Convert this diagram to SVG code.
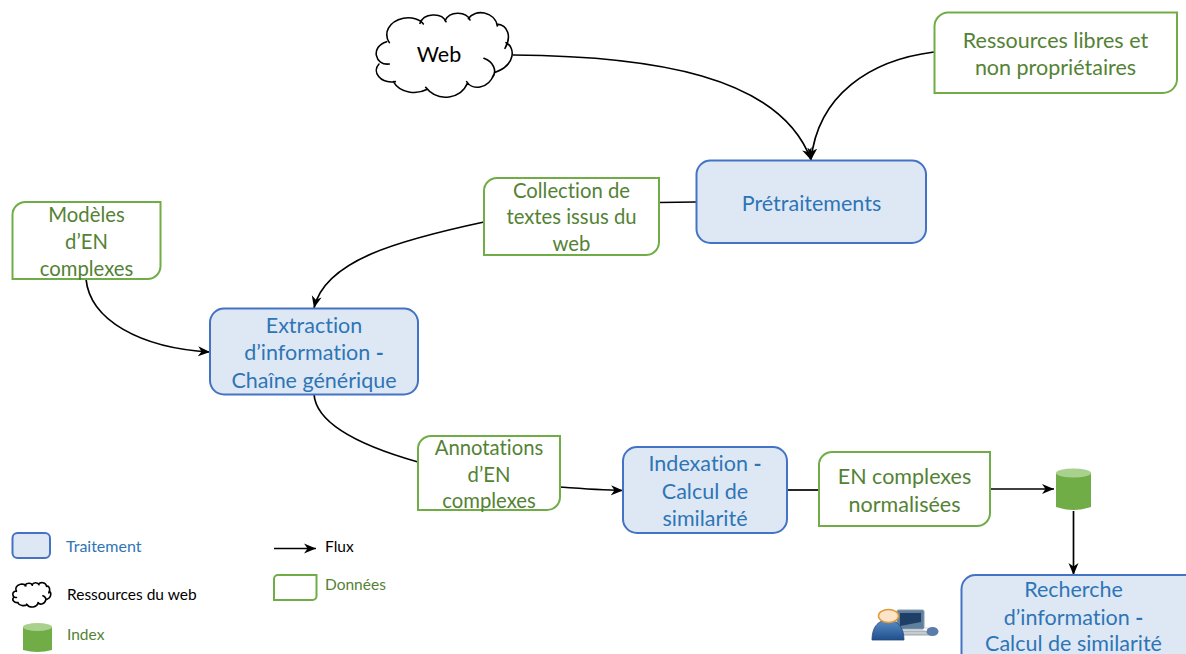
<svg xmlns="http://www.w3.org/2000/svg" xmlns:xlink="http://www.w3.org/1999/xlink" width="1186" height="654" viewBox="0 0 1186 654">
<style>
text{font-family:Lato,"Liberation Sans",sans-serif;text-anchor:middle;font-variant-ligatures:none}
.p{fill:#DEE8F5;stroke:#4472C4;stroke-width:2}
.d{fill:#fff;stroke:#70AD47;stroke-width:2}
.pt{fill:#2E75B6;font-size:21.5px}
.dt{fill:#548235;font-size:21.5px}
.ds{fill:#548235;font-size:20.300px}
.b{font-weight:700}
.lg{font-size:15.500px;text-anchor:start}
.c{fill:none;stroke:#000;stroke-width:1.7}
.arc{fill:none;stroke:#000;stroke-width:1.6;stroke-linecap:round;vector-effect:non-scaling-stroke}
.cf{fill:#fff;stroke:none}
.top{fill:#A9D18E}.body{fill:#70AD47}
</style>
<defs>
<marker id="a" markerUnits="userSpaceOnUse" markerWidth="13" markerHeight="12" refX="12" refY="6" orient="auto"><path d="M0,1 L12,6 L0,11 L3.500,6 Z" fill="#000"/></marker>
<g id="cloud">
<path class="cf" d="M85,125 L85,75 L130,55 L190,70 L220,40 L258,65 L295,38 L330,58 L375,35 L412,75 L445,95 L435,145 L458,165 L403,218 L395,235 L320,245 L260,295 L197,262 L100,245 L50,225 L55,195 L45,150 Z"/>
<path class="arc" d="M88,128 C70,100 85,65 130,55 C155,50 180,58 190,72 M180,70 C190,40 245,35 258,65 M255,62 C270,30 320,35 330,60 M325,56 C345,25 405,35 412,78 M410,72 C445,75 455,110 435,145 M438,128 C465,140 470,195 403,218 M372,175 C400,185 412,212 398,232 M402,222 C385,270 335,270 320,245 M322,250 C305,295 235,310 197,262 M202,268 C170,285 120,280 100,245 M106,245 C60,252 35,215 57,192 M88,192 C45,198 30,140 80,125"/>
</g>
<linearGradient id="g" x1="0" x2="0" y1="0" y2="1"><stop offset="0" stop-color="#5B8FC9"/><stop offset="1" stop-color="#1F4E8C"/></linearGradient>
</defs>

<g id="connectors">
<path class="c" d="M513,55 C650,56 780,75 811,160" marker-end="url(#a)"/>
<path class="c" d="M934,52 C870,60 818,95 811,160" marker-end="url(#a)"/>
<path class="c" d="M696,202 L659,202.500"/>
<path class="c" d="M484,222 C400,240 325,260 314,308" marker-end="url(#a)"/>
<path class="c" d="M86,279 C90,320 140,348 210,352" marker-end="url(#a)"/>
<path class="c" d="M314,394 C316,425 365,447 418,462"/>
<path class="c" d="M560,487 C580,488.500 600,490 623,490.500" marker-end="url(#a)"/>
<path class="c" d="M787,490 L819,490"/>
<path class="c" d="M990,489 L1054,489" marker-end="url(#a)"/>
<path class="c" d="M1073.500,511 L1073.500,575" marker-end="url(#a)"/>
</g>

<g id="web"><use xlink:href="#cloud" transform="translate(360,0) scale(.3333)"/><text x="439" y="62" font-size="21.500" fill="#000">Web</text></g>

<g id="ressources"><path class="d" d="M948,12.500 H1177 V79 A14,14 0 0 1 1163,93 H934.500 V26.500 A14,14 0 0 1 948,12.500 Z"/><text class="dt" x="1055.500" y="48">Ressources libres et</text><text class="dt" x="1055.500" y="75">non propriétaires</text></g>

<g id="pretraitements"><rect class="p" x="696.500" y="160.500" width="229.500" height="82.500" rx="14"/><text class="pt" x="811.500" y="211">Prétraitements</text></g>

<g id="collection"><path class="d" d="M497,178 H659 V242 A13,13 0 0 1 646,255 H484 V191 A13,13 0 0 1 497,178 Z"/><text class="ds" x="571.500" y="198">Collection de</text><text class="ds" x="571.500" y="224">textes issus du</text><text class="ds" x="571.500" y="251">web</text></g>

<g id="modeles"><path class="d" d="M25.500,202 H160.500 V266 A13,13 0 0 1 147.500,279 H12.500 V215 A13,13 0 0 1 25.500,202 Z"/><text class="ds" x="86.500" y="222">Modèles</text><text class="ds" x="86.500" y="249">d’EN</text><text class="ds" x="86.500" y="276">complexes</text></g>

<g id="extraction"><rect class="p" x="210" y="308.500" width="208" height="86" rx="14"/><text class="pt" x="314" y="333">Extraction</text><text class="pt" x="314" y="360">d’information <tspan class="b">-</tspan></text><text class="pt" x="314" y="388">Chaîne générique</text></g>

<g id="annotations"><path class="d" d="M431,436 H560 V497 A13,13 0 0 1 547,510 H418 V449 A13,13 0 0 1 431,436 Z"/><text class="ds" x="489" y="455">Annotations</text><text class="ds" x="489" y="482">d’EN</text><text class="ds" x="489" y="508">complexes</text></g>

<g id="indexation"><rect class="p" x="623" y="447" width="164" height="86" rx="14"/><text class="pt" x="705" y="471">Indexation <tspan class="b">-</tspan></text><text class="pt" x="705" y="499">Calcul de</text><text class="pt" x="705" y="526">similarité</text></g>

<g id="en-normalisees"><path class="d" d="M832,452 H990 V513 A13,13 0 0 1 977,526 H819 V465 A13,13 0 0 1 832,452 Z"/><text class="dt" x="904.500" y="484">EN complexes</text><text class="dt" x="904.500" y="512">normalisées</text></g>

<g id="index"><path class="body" d="M1056,473 V507 Q1073.500,513 1091,507 V473 Z"/><ellipse class="top" cx="1073.500" cy="473" rx="17.500" ry="4.500"/></g>

<g id="recherche"><rect class="p" x="961.500" y="575" width="240" height="100" rx="14"/><text class="pt" x="1073.500" y="597">Recherche</text><text class="pt" x="1073.500" y="625">d’information <tspan class="b">-</tspan></text><text class="pt" x="1073.500" y="651">Calcul de similarité</text></g>

<g id="user">
<rect x="897" y="610" width="27" height="19" rx="1.500" fill="#5E7F9E" stroke="#8a9bac"/>
<path d="M900,613 H921 V622 L900,626 Z" fill="#1F3F66"/>
<path d="M898,631 H925 L931,635 H900 Z" fill="#C5CBD2" stroke="#7c8791" stroke-width=".7"/>
<path d="M925,628 C932,628 936,630 937,634" fill="none" stroke="#D0D5DA"/>
<ellipse cx="932.500" cy="631.500" rx="6" ry="4.500" fill="#5B7BA8"/>
<path d="M872,640 C872,625 880,620 888,620 C898,620 904,628 904,640 Z" fill="url(#g)" stroke="#26467a" stroke-width=".8"/>
<ellipse cx="888.500" cy="616" rx="10" ry="6.500" fill="#FCE4C8" stroke="#E09A3A" stroke-width="1.500"/>
</g>

<g id="legend">
<rect class="p" x="12.500" y="533" width="37.500" height="25" rx="5"/>
<text class="lg" x="66" y="552" font-size="16" style="font-size:16px" fill="#2E75B6">Traitement</text>
<use xlink:href="#cloud" transform="translate(8.300,579) scale(.093,.096)"/>
<text class="lg" x="67" y="600" fill="#000">Ressources du web</text>
<path class="body" d="M23,627 V650 Q37.500,654 52,650 V627 Z"/><ellipse class="top" cx="37.500" cy="627" rx="14.500" ry="4"/>
<text class="lg" x="67" y="640" fill="#548235">Index</text>
<path class="c" d="M274,548.500 H316" marker-end="url(#a)"/>
<text class="lg" x="325" y="552" fill="#000">Flux</text>
<path class="d" d="M278,575 H316.500 V596 A4,4 0 0 1 312.500,600 H274 V579 A4,4 0 0 1 278,575 Z"/>
<text class="lg" x="325" y="590" fill="#548235">Données</text>
</g>
</svg>
